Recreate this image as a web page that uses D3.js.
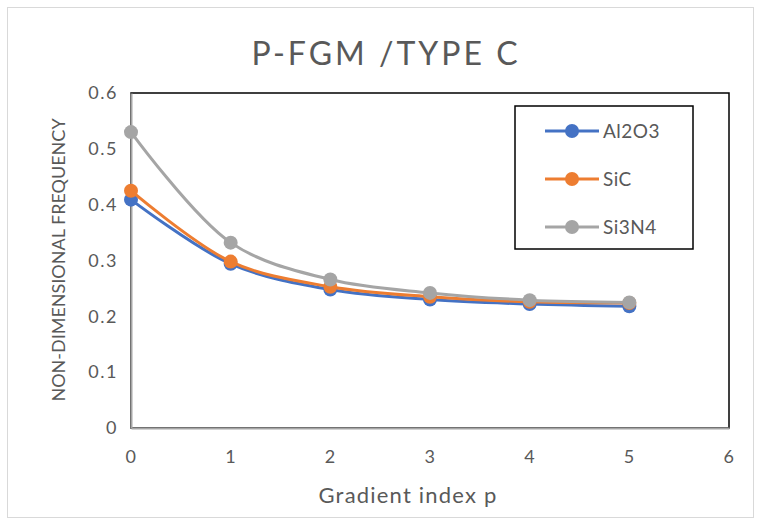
<!DOCTYPE html>
<html lang="en">
<head>
<meta charset="UTF-8">
<title>P-FGM / TYPE C</title>
<script src="https://d3js.org/d3.v7.min.js"></script>
<style>
  body { margin: 0; background: #fff; }
  text { font-family: Lato, "Open Sans", sans-serif; fill: #595959; }
  .tick text { font-size: 18px; letter-spacing: 1.5px; }
</style>
</head>
<body>
<div id="chart"></div>
<script>
// chart values
const gradientIndex = [0, 1, 2, 3, 4, 5];
const al2o3 = [0.409, 0.294, 0.248, 0.230, 0.222, 0.218];
const sic   = [0.425, 0.298, 0.253, 0.235, 0.226, 0.224];
const si3n4 = [0.530, 0.332, 0.266, 0.242, 0.229, 0.225];
const seriesNames = ["Al2O3", "SiC", "Si3N4"];
const seriesColors = ["#4472C4", "#ED7D31", "#A5A5A5"];
const xTicks = [0, 1, 2, 3, 4, 5, 6];
const yTicks = [0, 0.1, 0.2, 0.3, 0.4, 0.5, 0.6];

const series = [al2o3, sic, si3n4].map((vals, i) => ({
  name: seriesNames[i],
  color: seriesColors[i],
  points: vals.map((v, j) => ({ x: gradientIndex[j], y: v }))
}));

const width = 760, height = 524;
const plot = { left: 131, top: 93, right: 729, bottom: 428 };

const svg = d3.select("#chart").append("svg")
  .attr("width", width)
  .attr("height", height);

// outer chart border
svg.append("rect")
  .attr("x", 7.5).attr("y", 7.5)
  .attr("width", width - 14).attr("height", height - 14)
  .attr("fill", "#fff")
  .attr("stroke", "#d9d9d9");

const x = d3.scaleLinear().domain([0, 6]).range([plot.left, plot.right]);
const y = d3.scaleLinear().domain([0, 0.6]).range([plot.bottom, plot.top]);

// plot area border (black top/right)
svg.append("rect")
  .attr("x", plot.left).attr("y", plot.top)
  .attr("width", plot.right - plot.left).attr("height", plot.bottom - plot.top)
  .attr("fill", "none")
  .attr("stroke", "#000")
  .attr("stroke-width", 1.5);

// axes
const xAxis = svg.append("g")
  .attr("transform", `translate(0,${plot.bottom})`)
  .call(d3.axisBottom(x).tickValues(xTicks).tickSize(0).tickPadding(22).tickFormat(d3.format("d")));
xAxis.select(".domain").attr("stroke", "#a6a6a6").attr("stroke-width", 2);

const yAxis = svg.append("g")
  .attr("transform", `translate(${plot.left},0)`)
  .call(d3.axisLeft(y).tickValues(yTicks).tickSize(0).tickPadding(13).tickFormat(d => d === 0 ? "0" : d3.format(".1f")(d)));
yAxis.select(".domain").attr("stroke", "#a6a6a6").attr("stroke-width", 2);

// titles
svg.append("text")
  .attr("x", 386).attr("y", 65)
  .attr("text-anchor", "middle")
  .style("font-size", "32px")
  .style("letter-spacing", "3px")
  .text("P-FGM /TYPE C");

svg.append("text")
  .attr("x", 408).attr("y", 503)
  .attr("text-anchor", "middle")
  .style("font-size", "22px")
  .style("letter-spacing", "1.2px")
  .text("Gradient index p");

svg.append("text")
  .attr("transform", `translate(65,260) rotate(-90)`)
  .attr("text-anchor", "middle")
  .style("font-size", "18px")
  .text("NON-DIMENSIONAL FREQUENCY");

// lines
const line = d3.line()
  .x(d => x(d.x))
  .y(d => y(d.y))
  .curve(d3.curveCatmullRom.alpha(0.5));

const g = svg.append("g");
series.forEach(s => {
  g.append("path")
    .datum(s.points)
    .attr("fill", "none")
    .attr("stroke", s.color)
    .attr("stroke-width", 3)
    .attr("d", line);
  g.selectAll(null)
    .data(s.points)
    .enter().append("circle")
    .attr("cx", d => x(d.x))
    .attr("cy", d => y(d.y))
    .attr("r", 7)
    .attr("fill", s.color);
});

// legend
const legend = svg.append("g");
legend.append("rect")
  .attr("x", 515).attr("y", 106)
  .attr("width", 178).attr("height", 143)
  .attr("fill", "#fff")
  .attr("stroke", "#000")
  .attr("stroke-width", 1.5);

series.forEach((s, i) => {
  const ly = 131 + i * 48;
  legend.append("line")
    .attr("x1", 545).attr("x2", 599)
    .attr("y1", ly).attr("y2", ly)
    .attr("stroke", s.color)
    .attr("stroke-width", 3);
  legend.append("circle")
    .attr("cx", 572).attr("cy", ly).attr("r", 7)
    .attr("fill", s.color);
  legend.append("text")
    .attr("x", 603).attr("y", ly)
    .attr("dy", "0.35em")
    .style("font-size", "19px")
    .style("letter-spacing", "0.5px")
    .text(s.name);
});
</script>
</body>
</html>
